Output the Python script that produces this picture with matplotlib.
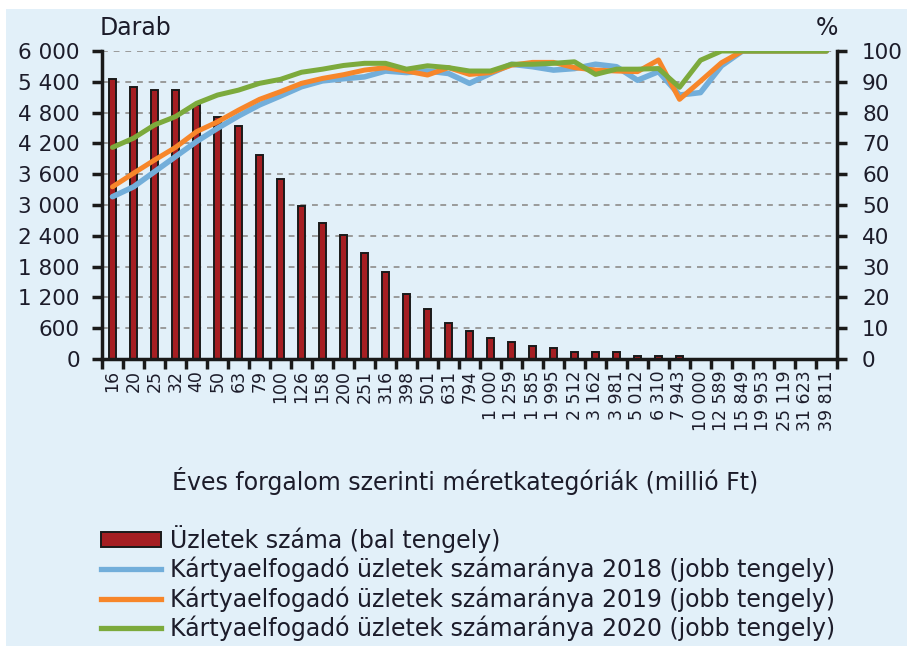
import matplotlib
matplotlib.use('Agg')
import matplotlib.pyplot as plt
import numpy as np
from matplotlib.patches import Rectangle, Patch
from matplotlib.lines import Line2D

categories = ['16', '20', '25', '32', '40', '50', '63', '79', '100', '126', '158', '200',
              '251', '316', '398', '501', '631', '794', '1 000', '1 259', '1 585', '1 995',
              '2 512', '3 162', '3 981', '5 012', '6 310', '7 943', '10 000', '12 589',
              '15 849', '19 953', '25 119', '31 623', '39 811']
shops = [5450, 5290, 5250, 5250, 4950, 4720, 4540, 3970, 3510, 2990, 2640, 2420, 2070, 1700,
         1270, 975, 700, 555, 403, 325, 253, 208, 140, 140, 140, 64, 64, 64, 0, 0, 0, 0, 0, 0, 0]
share_2018 = [52.7, 55.9, 60.8, 65.7, 70.6, 74.9, 78.9, 82.5, 85.4, 88.4, 90.3, 91.0, 91.6,
              93.5, 93.0, 93.5, 92.7, 89.5, 92.7, 95.7, 94.9, 93.8, 94.3, 95.7, 94.9, 90.5,
              93.3, 85.7, 86.5, 95.2, 100, 100, 100, 100, 100]
share_2019 = [55.9, 60.3, 64.6, 68.7, 73.8, 77.0, 80.8, 84.3, 86.8, 89.5, 91.1, 92.3, 93.8,
              94.6, 93.5, 92.2, 94.6, 92.4, 93.0, 95.4, 96.3, 96.3, 94.6, 93.8, 93.5, 93.3,
              97.1, 84.3, 90.2, 96.2, 100, 100, 100, 100, 100]
share_2020 = [68.7, 71.7, 76.0, 78.7, 83.0, 85.7, 87.3, 89.5, 90.8, 93.1, 94.1, 95.3, 96.0,
              96.0, 94.1, 95.2, 94.6, 93.5, 93.5, 95.7, 95.7, 96.0, 96.5, 92.4, 94.1, 94.1,
              94.3, 88.2, 97.0, 100, 100, 100, 100, 100, 100]
left_ticks = [0, 600, 1200, 1800, 2400, 3000, 3600, 4200, 4800, 5400, 6000]
left_labels = ['0', '600', '1 200', '1 800', '2 400', '3 000', '3 600', '4 200', '4 800', '5 400', '6 000']
right_ticks = [0, 10, 20, 30, 40, 50, 60, 70, 80, 90, 100]

legend_labels = ['Üzletek száma (bal tengely)',
                 'Kártyaelfogadó üzletek számaránya 2018 (jobb tengely)',
                 'Kártyaelfogadó üzletek számaránya 2019 (jobb tengely)',
                 'Kártyaelfogadó üzletek számaránya 2020 (jobb tengely)']

BG = '#E2F0F9'
BAR = '#A51E22'
C18 = '#72AEDA'
C19 = '#F7862A'
C20 = '#7CAA3C'
TXT = '#1c1c2a'

W, H = 907, 646
fig = plt.figure(figsize=(W / 100, H / 100), dpi=100)
fig.patch.set_facecolor('white')
fig.patches.append(Rectangle((6 / W, 0), 1 - 6 / W, 1 - 9 / H, transform=fig.transFigure,
                             facecolor=BG, edgecolor='none', zorder=-10))

ax = fig.add_axes([102 / W, 1 - 359 / H, (837 - 102) / W, (359 - 51) / H])
ax.set_facecolor('none')
x = np.arange(len(categories))
ax.bar(x, shops, width=0.3, color=BAR, edgecolor='#1a1a1a', linewidth=1.4, zorder=2)
ax.set_xlim(-0.5, len(categories) - 0.5)
ax.set_ylim(0, 6000)
ax.set_yticks(left_ticks)
ax.set_yticklabels(left_labels)
ax.yaxis.grid(True, color='#9a9a9a', linewidth=1.4, linestyle=(0, (3, 3)))
ax.set_axisbelow(True)
ax.tick_params(axis='y', direction='out', length=7, width=2.5, pad=9, labelsize=15.5,
               labelcolor=TXT, color='#1a1a1a')
ax.set_xticks(x)
ax.set_xticklabels(categories, rotation=90, fontsize=12.5, color=TXT, va='top')
ax.set_xticks(np.arange(-0.5, len(categories), 1), minor=True)
ax.tick_params(axis='x', which='major', length=0, pad=8)
ax.tick_params(axis='x', which='minor', direction='out', length=7, width=2.5, color='#1a1a1a')
for s in ['top', 'right']:
    ax.spines[s].set_visible(False)
for s in ['left', 'bottom']:
    ax.spines[s].set_linewidth(2.5)
    ax.spines[s].set_color('#1a1a1a')

ax2 = ax.twinx()
ax2.set_facecolor('none')
ax2.plot(x, share_2018, color=C18, linewidth=4.0, solid_capstyle='round', zorder=3)
ax2.plot(x, share_2019, color=C19, linewidth=3.6, solid_capstyle='round', zorder=4)
ax2.plot(x, share_2020, color=C20, linewidth=3.6, solid_capstyle='round', zorder=5)
ax2.set_ylim(0, 100)
ax2.set_yticks(right_ticks)
ax2.tick_params(axis='y', direction='out', length=7, width=2.5, pad=11, labelsize=15.5,
                labelcolor=TXT, color='#1a1a1a')
for s in ['top', 'left', 'bottom']:
    ax2.spines[s].set_visible(False)
ax2.spines['right'].set_linewidth(2.5)
ax2.spines['right'].set_color('#1a1a1a')

fig.text(100 / W, 1 - 35 / H, 'Darab', fontsize=17, color=TXT, va='baseline', ha='left')
fig.text(838 / W, 1 - 35 / H, '%', fontsize=17, color=TXT, va='baseline', ha='right')
fig.text(172 / W, 1 - 490 / H, 'Éves forgalom szerinti méretkategóriák (millió Ft)',
         fontsize=17, color=TXT, va='baseline', ha='left')

handles = [Patch(facecolor=BAR, edgecolor='#1a1a1a', linewidth=1.4),
           Line2D([], [], color=C18, linewidth=3.8),
           Line2D([], [], color=C19, linewidth=3.8),
           Line2D([], [], color=C20, linewidth=3.8)]
fig.legend(handles, legend_labels, loc='upper left', bbox_to_anchor=(101 / W, 1 - 525 / H),
           frameon=False, prop={'size': 17}, labelcolor=TXT,
           borderpad=0, borderaxespad=0, handlelength=2.55, handleheight=0.64,
           handletextpad=0.38, labelspacing=0.17)

fig.savefig('out.png', dpi=100, facecolor=fig.get_facecolor())
